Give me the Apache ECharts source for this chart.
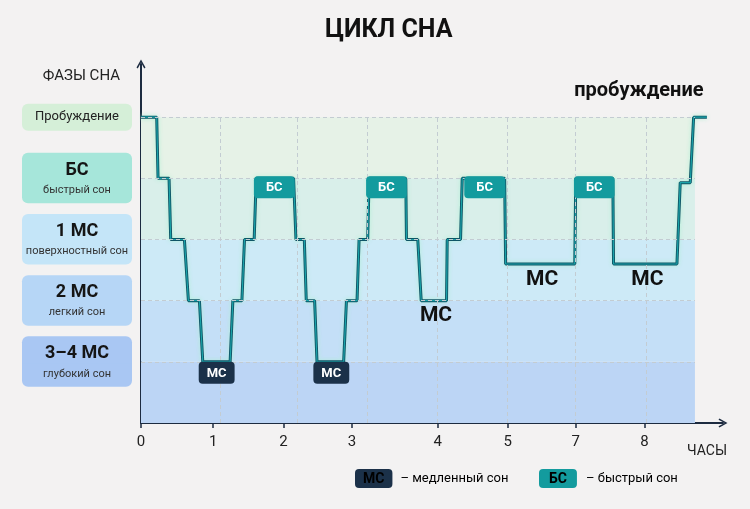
<!DOCTYPE html>
<html>
<head>
<meta charset="utf-8">
<style>
  html, body { margin: 0; padding: 0; background: #f3f2f2; }
  #chart { width: 750px; height: 509px; }
</style>
<script src="https://cdn.jsdelivr.net/npm/echarts@6/dist/echarts.min.js"></script>
</head>
<body>
<div id="chart"></div>
<script>
// фазы сна (снизу вверх)
const phaseTitles = ['3–4 МС', '2 МС', '1 МС', 'БС', 'Пробуждение'];
const phaseSubs = ['глубокий сон', 'легкий сон', 'поверхностный сон', 'быстрый сон', ''];
const phaseLevels = [0, 1, 2, 3, 4];
const phaseBoxColors = ['#a9c7f3', '#b6d6f6', '#c4e5f8', '#a6e6da', '#d5efd8'];
const bandColors = ['#bcd5f5', '#c4dff7', '#cdeaf7', '#d9efea', '#e6f2e7'];

// ось времени
const hourTicks = [0, 1.03, 2.03, 3.01, 4.23, 5.23, 6.2, 7.18];
const hourLabels = ['0', '1', '2', '3', '4', '5', '7', '8'];
const gridLinesX = [1.137, 2.224, 3.224, 4.224, 5.224, 6.2, 7.2];
const bandEnd = 7.9;

// ступенчатая кривая сна
const stepTime = [0, 0.224, 0.243, 0.40, 0.424, 0.619, 0.676, 0.833, 0.881, 1.271,
  1.31, 1.439, 1.476, 1.614, 1.643, 2.176, 2.21, 2.329, 2.357, 2.476,
  2.51, 2.89, 2.93, 3.081, 3.11, 3.233, 3.253, 3.776, 3.786, 3.947,
  3.996, 4.357, 4.367, 4.557, 4.581, 5.186, 5.2, 6.186, 6.2, 6.729,
  6.739, 7.643, 7.69, 7.833, 7.881, 8.07];
const stepLevel = [4, 4, 3, 3, 2, 2, 1, 1, 0, 0,
  1, 1, 2, 2, 3, 3, 2, 2, 1, 1,
  0, 0, 1, 1, 2, 2, 3, 3, 2, 2,
  1, 1, 2, 2, 3, 3, 1.6, 1.6, 3, 3,
  1.6, 1.6, 2.93, 2.93, 4, 4];

// метки на кривой
const remTags = [[1.9, 3], [3.5, 3], [4.9, 3], [6.464, 3]];
const deepTags = [[1.079, 0], [2.714, 0]];
const nremTexts = [[4.207, 1], [5.721, 1.6], [7.221, 1.6]];
const wakeText = [7.1, 4];

const chart = echarts.init(document.getElementById('chart'));

const arrowPath = 'path://M5,0 L10,9 L8.6,10 L5,3.2 L1.4,10 L0,9 Z';
const font = 'Roboto, "Noto Sans", sans-serif';

// rich-стили для подписей оси Y
const phaseRich = {};
phaseTitles.forEach((t, i) => {
  if (i === 4) {
    phaseRich.w = {
      backgroundColor: phaseBoxColors[i], width: 110, height: 27, lineHeight: 27,
      borderRadius: 6, align: 'center', fontSize: 13, color: '#222', fontFamily: font
    };
  } else {
    phaseRich['t' + i] = {
      backgroundColor: phaseBoxColors[i], width: 110, height: 27, lineHeight: 27,
      borderRadius: [6, 6, 0, 0], align: 'center', fontSize: 18, fontWeight: 'bold',
      color: '#151515', fontFamily: font, padding: [4, 0, 0, 0]
    };
    phaseRich['s' + i] = {
      backgroundColor: phaseBoxColors[i], width: 110, height: 20, lineHeight: 20,
      borderRadius: [0, 0, 6, 6], align: 'center', fontSize: 11, color: '#333',
      fontFamily: font, padding: [0, 0, 3, 0]
    };
  }
});

const bandData = phaseLevels.map((lv, i) => [
  { xAxis: 0, yAxis: lv - 1, itemStyle: { color: bandColors[i] } },
  { xAxis: bandEnd, yAxis: lv }
]);

const gridLineData = phaseLevels.map(lv => [
  { coord: [0, lv] }, { coord: [bandEnd, lv] }
]).concat(gridLinesX.map(x => [
  { coord: [x, -1] }, { coord: [x, 4] }
]));

const stepData = stepTime.map((t, i) => [t, stepLevel[i]]);

const option = {
  backgroundColor: '#f3f2f2',
  textStyle: { fontFamily: font },
  title: {
    text: 'ЦИКЛ СНА',
    left: 320,
    top: 13,
    textStyle: { fontSize: 25, fontWeight: 'bold', color: '#111', fontFamily: font }
  },
  grid: { left: 141, right: 27, top: 64, bottom: 86 },
  xAxis: {
    type: 'value',
    min: 0,
    max: 8.3,
    name: 'ЧАСЫ',
    nameLocation: 'end',
    nameGap: -16,
    nameTextStyle: {
      fontSize: 14, color: '#222', align: 'center', verticalAlign: 'top',
      padding: [21, 0, 0, 0], fontFamily: font
    },
    axisLine: {
      onZero: false,
      lineStyle: { color: '#1c2b40', width: 2 },
      symbol: ['none', arrowPath],
      symbolSize: [10, 9]
    },
    axisTick: {
      show: true, length: 5, customValues: hourTicks,
      lineStyle: { color: '#1c2b40', width: 1.5 }
    },
    axisLabel: {
      customValues: hourTicks,
      margin: 12,
      fontSize: 15,
      color: '#222',
      formatter: v => hourLabels[hourTicks.indexOf(v)]
    },
    splitLine: { show: false }
  },
  yAxis: {
    type: 'value',
    min: -1,
    max: 4.87,
    name: 'ФАЗЫ СНА',
    nameLocation: 'end',
    nameGap: -12,
    nameTextStyle: {
      fontSize: 15, color: '#222', align: 'right', verticalAlign: 'middle',
      padding: [0, 21, 0, 0], fontFamily: font
    },
    axisLine: {
      onZero: false,
      lineStyle: { color: '#1c2b40', width: 2 },
      symbol: ['none', arrowPath],
      symbolSize: [10, 9]
    },
    axisTick: { show: false },
    axisLabel: {
      customValues: phaseLevels,
      margin: 9,
      formatter: v => {
        const i = phaseLevels.indexOf(v);
        if (i === 4) return '{w|' + phaseTitles[i] + '}';
        return '{t' + i + '|' + phaseTitles[i] + '}\n{s' + i + '|' + phaseSubs[i] + '}';
      },
      rich: phaseRich
    },
    splitLine: { show: false }
  },
  graphic: [
    {
      type: 'text', left: 355, top: 469,
      style: {
        text: '{b|МС}{t|– медленный сон}',
        rich: {
          b: { backgroundColor: '#1b3149', color: '#fff', fontWeight: 'bold', fontSize: 14,
               padding: [3, 8, 2, 8], borderRadius: 4, fontFamily: font },
          t: { fontSize: 13, color: '#333', padding: [0, 0, 0, 8], fontFamily: font }
        }
      }
    },
    {
      type: 'text', left: 539, top: 469,
      style: {
        text: '{b|БС}{t|– быстрый сон}',
        rich: {
          b: { backgroundColor: '#139b9e', color: '#fff', fontWeight: 'bold', fontSize: 14,
               padding: [3, 10, 2, 10], borderRadius: 4, fontFamily: font },
          t: { fontSize: 13, color: '#333', padding: [0, 0, 0, 9], fontFamily: font }
        }
      }
    }
  ],
  series: [
    {
      // фоновые полосы и сетка
      type: 'line',
      data: [],
      z: 1,
      silent: true,
      markArea: { silent: true, data: bandData },
      markLine: {
        silent: true,
        symbol: 'none',
        label: { show: false },
        lineStyle: { color: '#c3ccd2', type: [4, 3], width: 1 },
        data: gridLineData
      }
    },
    {
      type: 'line',
      data: stepData,
      z: 3,
      showSymbol: false,
      silent: true,
      lineStyle: {
        color: '#0f5466', width: 3,
        shadowColor: 'rgba(170,240,210,0.9)', shadowBlur: 4
      }
    },
    {
      type: 'line',
      data: stepData,
      z: 4,
      showSymbol: false,
      silent: true,
      lineStyle: { color: '#1aa3a8', width: 1.2 }
    },
    {
      name: 'БС',
      type: 'scatter',
      z: 5,
      symbolSize: 0,
      itemStyle: { opacity: 1 },
      data: remTags,
      label: {
        show: true, position: 'bottom', distance: -2, formatter: 'БС',
        backgroundColor: '#139b9e', color: '#fff', fontWeight: 'bold', fontSize: 13,
        padding: [5, 12, 4, 12], borderRadius: 4
      }
    },
    {
      name: 'МС',
      type: 'scatter',
      z: 5,
      symbolSize: 0,
      itemStyle: { opacity: 1 },
      data: deepTags,
      label: {
        show: true, position: 'bottom', distance: 0, formatter: 'МС',
        backgroundColor: '#1b3149', color: '#fff', fontWeight: 'bold', fontSize: 13,
        padding: [5, 8, 4, 8], borderRadius: 4
      }
    },
    {
      type: 'scatter',
      z: 5,
      symbolSize: 0,
      itemStyle: { opacity: 1 },
      data: nremTexts,
      label: {
        show: true, position: 'bottom', distance: 5, formatter: 'МС',
        color: '#111', fontWeight: 'bold', fontSize: 21
      }
    },
    {
      type: 'scatter',
      z: 5,
      symbolSize: 0,
      itemStyle: { opacity: 1 },
      data: [wakeText],
      label: {
        show: true, position: 'top', distance: 16, formatter: 'пробуждение',
        color: '#111', fontWeight: 'bold', fontSize: 20
      }
    }
  ]
};

chart.setOption(option);
</script>
</body>
</html>
